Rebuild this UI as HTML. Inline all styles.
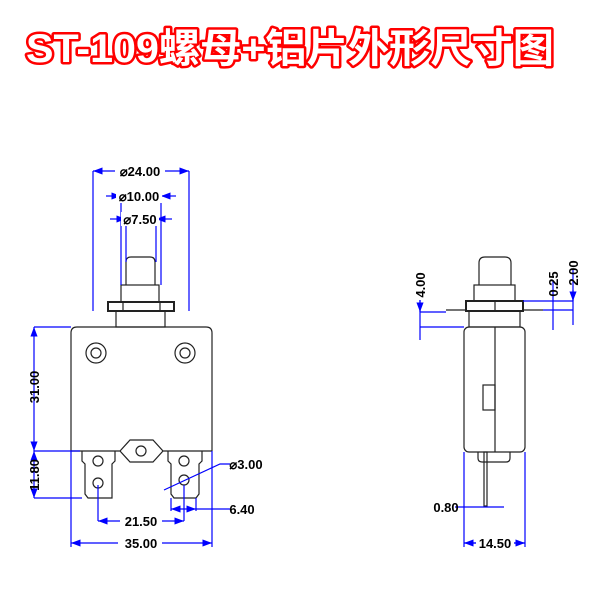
<!DOCTYPE html>
<html><head><meta charset="utf-8"><style>
body{margin:0;background:#fff;width:600px;height:600px;overflow:hidden}
</style></head><body>
<svg width="600" height="600" style="position:absolute;left:0;top:0" font-family="Liberation Sans Narrow, Liberation Sans, sans-serif" font-weight="bold" font-size="13">
<defs><marker id="a" markerWidth="8" markerHeight="6" refX="8" refY="3" orient="auto-start-reverse"><path d="M0,0L8,3L0,6z" fill="#00f"/></marker></defs>
<text x="26" y="62" textLength="528" lengthAdjust="spacingAndGlyphs" font-family="Liberation Sans, Noto Sans CJK SC, sans-serif" font-size="40" font-weight="bold" fill="#fff" stroke="#f00" stroke-width="5" paint-order="stroke" stroke-linejoin="round">ST-109螺母+铝片外形尺寸图</text>
<g fill="none" stroke="#222" stroke-width="1.2">
<path d="M126,285V262q0,-5 5,-5h19q5,0 5,5V285"/>
<rect x="121" y="285" width="38" height="17"/>
<rect x="108" y="302" width="66" height="9" stroke-width="2"/>
<path d="M123,302v9M160,302v9"/>
<rect x="116" y="311" width="49" height="16"/>
<path d="M71,451V333q0,-6 6,-6h129q6,0 6,6V451"/>
<circle cx="96" cy="353" r="10"/><circle cx="96" cy="353" r="5"/>
<circle cx="185" cy="353" r="10"/><circle cx="185" cy="353" r="5"/>
<path d="M71,451H120M163,451H212M120,451l10,-11h23l10,11l-10,11h-23z"/>
<circle cx="141" cy="451" r="5"/>
<path d="M82,451v10l3,3v30l3,4h24v-34l3,-3v-10"/>
<circle cx="98" cy="461" r="5"/><circle cx="98" cy="483" r="5"/>
<path d="M168,451v10l3,3v30l3,4h22l3,-4v-30l3,-3v-10"/>
<circle cx="184" cy="461" r="5"/><circle cx="184" cy="480" r="5"/>
<path d="M479,285V263q0,-6 6,-6h20q6,0 6,6V285"/>
<rect x="474" y="285" width="41" height="16"/>
<rect x="466" y="301" width="57" height="10" stroke-width="2"/>
<path d="M495,301v10M446,310h20M523,310h20"/>
<rect x="469" y="311" width="51" height="16"/>
<rect x="464" y="327" width="61" height="125" rx="5"/>
<path d="M495,327v125"/>
<rect x="483" y="385" width="12" height="25"/>
<path d="M478,452v6q0,4 4,4h24q4,0 4,-4v-6"/>
<rect x="484" y="452" width="3" height="54"/>
</g>
<g stroke="#00f" stroke-width="1.2" fill="none">
<path d="M93,311V171M189,311V171M121,285V196M161,285V196M126,262V219M156,262V219"/>
<path d="M93,171H120M160,171H189" marker-start="url(#a)" marker-end="url(#a)"/>
<path d="M106,196H121" marker-end="url(#a)"/>
<path d="M176,196H161" marker-end="url(#a)"/>
<path d="M110,219H126" marker-end="url(#a)"/>
<path d="M172,219H156" marker-end="url(#a)"/>
<path d="M71,327H34M80,451H34M82,498H34M71,451V547M212,451V547M98,485V521M184,485V521M171,498V511M196,498V511"/>
<path d="M34,327V451" marker-start="url(#a)" marker-end="url(#a)"/>
<path d="M34,451V498" marker-start="url(#a)" marker-end="url(#a)"/>
<path d="M71,543H212" marker-start="url(#a)" marker-end="url(#a)"/>
<path d="M98,521H184" marker-start="url(#a)" marker-end="url(#a)"/>
<path d="M171,509H196" marker-start="url(#a)" marker-end="url(#a)"/>
<path d="M196,509H230"/>
<path d="M164,490L220,464H230"/>
<path d="M420,312H446M420,327H464M420,300V340M523,301H573M543,310H573M553,280V330M573,270V325"/>
<path d="M420,300V312" marker-end="url(#a)"/>
<path d="M573,290V301" marker-end="url(#a)"/>
<path d="M464,452V547M525,452V547"/>
<path d="M464,543H480M510,543H525"/>
<path d="M480,543H464" marker-end="url(#a)"/>
<path d="M510,543H525" marker-end="url(#a)"/>
<path d="M455,507H504"/>
</g>
<g fill="#000" text-anchor="middle">
<rect x="115" y="164" width="50" height="14" fill="#fff"/><text x="140" y="176">⌀24.00</text>
<rect x="116" y="189" width="46" height="14" fill="#fff"/><text x="139" y="201">⌀10.00</text>
<rect x="121" y="212" width="38" height="14" fill="#fff"/><text x="140" y="224">⌀7.50</text>
<text transform="translate(39,387) rotate(-90)">31.00</text>
<text transform="translate(39,475) rotate(-90)">11.80</text>
<rect x="120" y="514" width="42" height="14" fill="#fff"/><text x="141" y="526">21.50</text>
<rect x="118" y="536" width="44" height="14" fill="#fff"/><text x="141" y="548">35.00</text>
<text x="242" y="514">6.40</text>
<text x="246" y="469">⌀3.00</text>
<text transform="translate(425,285) rotate(-90)">4.00</text>
<text transform="translate(558,284) rotate(-90)">0.25</text>
<text transform="translate(578,273) rotate(-90)">2.00</text>
<text x="446" y="512">0.80</text>
<rect x="476" y="536" width="38" height="14" fill="#fff"/><text x="495" y="548">14.50</text>
</g>
</svg>
</body></html>
